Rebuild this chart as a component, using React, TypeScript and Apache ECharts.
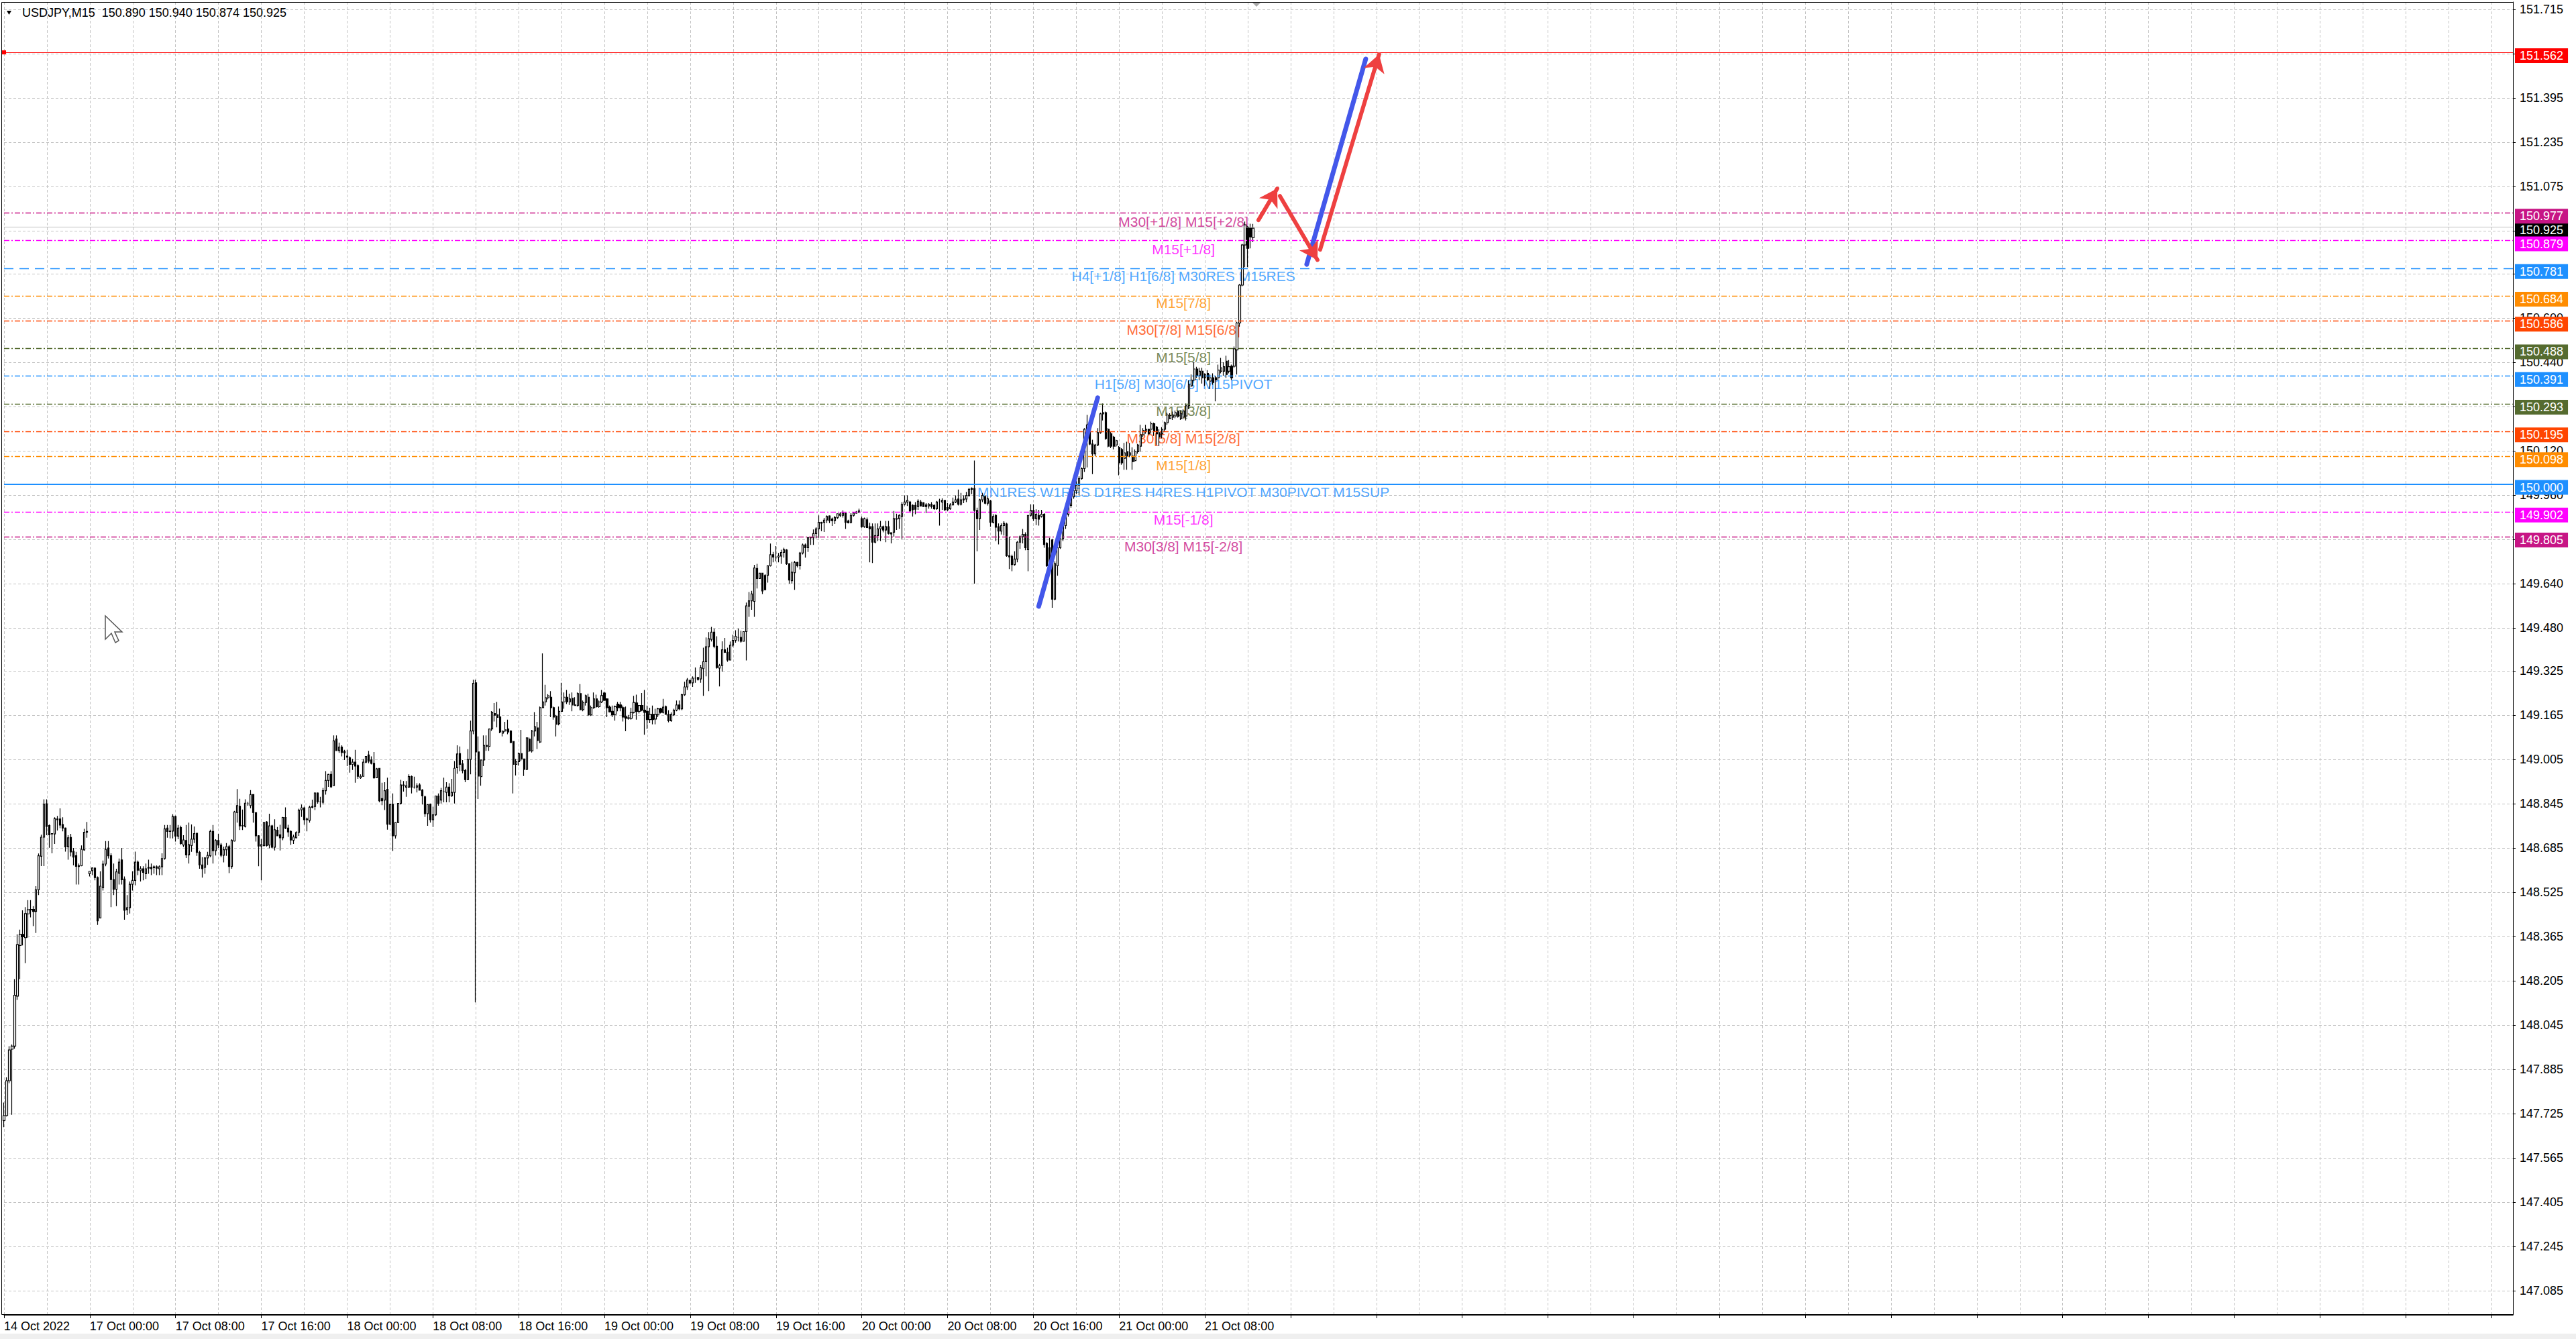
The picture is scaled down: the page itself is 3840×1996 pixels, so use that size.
import React, { useEffect, useRef } from "react";
import * as echarts from "echarts";

// ---------------- data ----------------
const TIME_LABELS = [
  "14 Oct 2022", "17 Oct 00:00", "17 Oct 08:00", "17 Oct 16:00", "18 Oct 00:00",
  "18 Oct 08:00", "18 Oct 16:00", "19 Oct 00:00", "19 Oct 08:00", "19 Oct 16:00",
  "20 Oct 00:00", "20 Oct 08:00", "20 Oct 16:00", "21 Oct 00:00", "21 Oct 08:00",
];
const BARS_PER_LABEL = 32;
const SLOT_COUNT = 937; // chart keeps empty space to the right of the last bar

const OPEN = [
147.700,147.718,147.844,147.958,147.969,148.150,148.333,148.373,148.361,148.447,
148.462,148.463,148.456,148.534,148.655,148.724,148.845,148.766,148.737,148.736,
148.790,148.790,148.770,148.757,148.689,148.723,148.673,148.657,148.621,148.621,
148.678,148.742,148.592,148.603,148.612,148.578,148.432,148.541,148.627,148.685,
148.657,148.571,148.536,148.594,148.642,148.573,148.462,148.469,148.554,148.568,
148.634,148.603,148.610,148.592,148.612,148.615,148.614,148.617,148.610,148.617,
148.647,148.757,148.746,148.746,148.799,148.728,148.759,148.696,148.712,148.660,
148.694,148.717,148.738,148.669,148.624,148.615,148.649,148.657,148.745,148.675,
148.712,148.696,148.659,148.679,148.690,148.618,148.710,148.813,148.836,148.765,
148.763,148.845,148.838,148.878,148.813,148.729,148.692,148.694,148.779,148.696,
148.765,148.688,148.749,148.733,148.722,148.795,148.757,148.745,148.713,148.722,
148.741,148.823,148.830,148.787,148.785,148.832,148.835,148.884,148.852,148.850,
148.892,148.929,148.951,148.910,149.079,149.037,149.050,149.034,149.017,149.011,
148.987,148.995,148.983,148.939,148.944,148.995,149.021,149.003,148.991,148.939,
148.973,148.864,148.858,148.897,148.771,148.843,148.729,148.777,148.846,148.913,
148.905,148.905,148.943,148.905,148.905,148.913,148.894,148.870,148.809,148.843,
148.787,148.805,148.873,148.858,148.889,148.886,148.905,148.873,148.886,148.975,
149.026,148.989,148.965,148.932,149.005,149.108,149.282,149.032,148.943,149.003,
149.056,149.052,149.115,149.171,149.167,149.159,149.100,149.108,149.115,149.108,
149.070,148.987,148.997,149.026,149.007,148.969,149.078,149.036,149.108,149.119,
149.068,149.192,149.213,149.228,149.230,149.192,149.162,149.134,149.179,149.213,
149.230,149.213,149.226,149.202,149.200,149.243,149.185,149.211,149.230,149.166,
149.192,149.224,149.196,149.213,149.245,149.224,149.194,149.179,149.168,149.205,
149.202,149.192,149.160,149.154,149.154,149.175,149.209,149.179,149.200,149.183,
149.179,149.149,149.168,149.151,149.168,149.188,149.175,149.196,149.168,149.145,
149.166,149.183,149.202,149.188,149.239,149.267,149.290,149.282,149.299,149.301,
149.296,149.333,149.358,149.412,149.439,149.465,149.414,149.335,149.344,149.401,
149.392,149.364,149.418,149.435,149.446,149.446,149.432,149.467,149.559,149.578,
149.576,149.695,149.659,149.678,149.670,149.670,149.705,149.745,149.736,149.736,
149.740,149.753,149.762,149.712,149.651,149.680,149.717,149.705,149.751,149.780,
149.770,149.806,149.806,149.821,149.838,149.859,149.862,149.870,149.885,149.874,
149.868,149.879,149.887,149.887,149.895,149.867,149.862,149.887,149.895,149.899,
149.875,149.846,149.871,149.846,149.846,149.790,149.814,149.838,149.846,149.834,
149.846,149.824,149.826,149.873,149.875,149.883,149.927,149.935,149.935,149.923,
149.923,149.919,149.935,149.933,149.925,149.921,149.927,149.923,149.911,149.939,
149.935,149.941,149.915,149.911,149.925,149.935,149.946,149.927,149.943,149.946,
149.959,149.981,149.984,149.905,149.875,149.943,149.955,149.931,149.939,149.862,
149.887,149.846,149.830,149.850,149.856,149.741,149.739,149.709,149.729,149.790,
149.810,149.818,149.763,149.887,149.905,149.875,149.887,149.883,149.891,149.786,
149.770,149.798,149.584,149.705,149.770,149.802,149.850,149.891,149.923,149.954,
149.976,149.996,150.020,150.056,150.198,150.214,150.145,150.109,150.141,150.186,
150.254,150.258,150.198,150.182,150.170,150.141,150.133,150.125,150.093,150.117,
150.105,150.101,150.085,150.117,150.137,150.178,150.190,150.198,150.198,150.218,
150.206,150.186,150.182,150.198,150.222,150.237,150.242,150.246,150.262,150.237,
150.242,150.246,150.283,150.355,150.376,150.416,150.392,150.408,150.384,150.400,
150.372,150.384,150.384,150.384,150.408,150.408,150.444,150.408,150.426,150.426,
150.485,150.582,150.719,150.864,150.929,150.925,150.890,
];

const HIGH = [
147.765,147.856,147.969,147.975,148.211,148.373,148.390,148.460,148.471,148.497,
148.497,148.475,148.547,148.665,148.733,148.861,148.861,148.770,148.738,148.796,
148.801,148.828,148.796,148.759,148.731,148.736,148.685,148.671,148.629,148.694,
148.754,148.779,148.601,148.615,148.615,148.582,148.601,148.640,148.710,148.710,
148.666,148.629,148.610,148.647,148.685,148.582,148.515,148.564,148.601,148.672,
148.640,148.619,148.619,148.629,148.643,148.629,148.622,148.622,148.622,148.666,
148.768,148.768,148.768,148.807,148.802,148.768,148.766,148.731,148.768,148.777,
148.770,148.763,148.738,148.675,148.652,148.652,148.671,148.751,148.768,148.717,
148.736,148.703,148.690,148.703,148.696,148.717,148.819,148.898,148.863,148.824,
148.861,148.852,148.894,148.878,148.813,148.731,148.717,148.779,148.782,148.809,
148.769,148.789,148.761,148.769,148.797,148.832,148.769,148.749,148.733,148.745,
148.827,148.842,148.834,148.795,148.838,148.860,148.886,148.886,148.870,148.902,
148.963,148.953,148.963,149.092,149.092,149.066,149.056,149.040,149.040,149.016,
149.007,149.040,148.987,148.951,149.007,149.017,149.036,149.016,149.032,148.974,
148.974,148.921,148.923,148.939,148.846,148.882,148.777,148.846,148.931,148.927,
148.927,148.951,148.947,148.943,148.919,148.919,148.898,148.874,148.842,148.846,
148.834,148.873,148.882,148.902,148.939,148.923,148.919,148.935,148.999,149.056,
149.052,149.003,148.971,149.042,149.145,149.293,149.293,149.088,149.003,149.092,
149.092,149.115,149.180,149.209,149.213,149.189,149.110,149.141,149.149,149.110,
149.072,149.007,149.030,149.112,149.007,149.084,149.084,149.112,149.176,149.141,
149.196,149.388,149.275,149.241,149.252,149.196,149.166,149.196,149.282,149.247,
149.256,149.243,149.247,149.230,149.247,149.277,149.218,149.239,149.243,149.200,
149.247,149.239,149.218,149.256,149.250,149.226,149.200,149.200,149.200,149.213,
149.213,149.200,149.196,149.166,149.192,149.235,149.239,149.200,149.245,149.256,
149.200,149.192,149.200,149.188,149.192,149.192,149.224,149.200,149.183,149.175,
149.188,149.218,149.218,149.243,149.286,149.299,149.294,149.305,149.337,149.303,
149.347,149.409,149.446,149.465,149.484,149.478,149.450,149.350,149.432,149.444,
149.409,149.431,149.456,149.472,149.478,149.470,149.467,149.572,149.610,149.614,
149.708,149.712,149.678,149.678,149.674,149.705,149.785,149.755,149.776,149.751,
149.763,149.770,149.765,149.714,149.719,149.723,149.719,149.755,149.785,149.785,
149.810,149.810,149.836,149.844,149.887,149.864,149.878,149.887,149.887,149.879,
149.885,149.893,149.899,149.905,149.895,149.871,149.895,149.899,149.903,149.911,
149.883,149.879,149.879,149.860,149.858,149.858,149.858,149.867,149.850,149.867,
149.867,149.826,149.903,149.893,149.891,149.935,149.959,149.959,149.939,149.927,
149.935,149.945,149.943,149.935,149.931,149.931,149.935,149.927,149.939,149.947,
149.949,149.943,149.931,149.931,149.951,149.959,149.980,149.968,149.959,149.972,
149.986,149.988,150.085,149.915,149.947,149.968,149.959,149.955,149.943,149.891,
149.891,149.858,149.858,149.866,149.860,149.810,149.745,149.757,149.794,149.814,
149.838,149.826,149.887,149.927,149.927,149.909,149.907,149.907,149.895,149.790,
149.806,149.802,149.721,149.774,149.834,149.858,149.899,149.931,149.964,149.981,
150.012,150.028,150.060,150.202,150.250,150.218,150.160,150.145,150.202,150.258,
150.291,150.262,150.202,150.190,150.174,150.160,150.137,150.130,150.149,150.153,
150.149,150.133,150.125,150.145,150.214,150.202,150.214,150.200,150.226,150.222,
150.210,150.198,150.206,150.226,150.258,150.256,150.262,150.266,150.266,150.266,
150.270,150.291,150.375,150.396,150.440,150.424,150.420,150.420,150.400,150.412,
150.396,150.400,150.392,150.432,150.456,150.440,150.464,150.448,150.432,150.497,
150.586,150.723,150.868,150.949,150.933,150.941,150.940,
];

const LOW = [
147.676,147.715,147.835,147.721,147.960,148.136,148.211,148.333,148.269,148.361,
148.434,148.403,148.378,148.515,148.620,148.620,148.731,148.686,148.666,148.700,
148.748,148.757,148.745,148.672,148.643,148.655,148.622,148.553,148.553,148.619,
148.675,148.722,148.582,148.587,148.568,148.407,148.432,148.531,148.619,148.647,
148.471,148.515,148.475,148.553,148.553,148.426,148.443,148.448,148.531,148.550,
148.587,148.564,148.568,148.573,148.592,148.587,148.592,148.587,148.587,148.587,
148.643,148.722,148.720,148.720,148.708,148.717,148.697,148.689,148.649,148.629,
148.671,148.703,148.657,148.610,148.578,148.592,148.624,148.652,148.629,148.658,
148.685,148.652,148.633,148.657,148.594,148.610,148.708,148.777,148.750,148.750,
148.759,148.838,148.828,148.777,148.708,148.619,148.568,148.690,148.690,148.684,
148.684,148.676,148.729,148.676,148.713,148.753,148.725,148.696,148.700,148.720,
148.729,148.797,148.769,148.745,148.777,148.828,148.822,148.845,148.832,148.842,
148.878,148.906,148.902,148.910,149.036,149.029,149.016,149.003,148.981,148.957,
148.967,148.921,148.935,148.935,148.943,148.991,148.991,148.987,148.935,148.937,
148.850,148.840,148.822,148.751,148.769,148.674,148.719,148.777,148.842,148.889,
148.870,148.902,148.882,148.900,148.886,148.894,148.842,148.797,148.765,148.777,
148.761,148.801,148.838,148.846,148.850,148.850,148.850,148.870,148.846,148.953,
148.963,148.955,148.923,148.931,148.951,149.096,148.127,148.862,148.910,148.981,
149.036,149.036,149.108,149.142,149.121,149.100,149.088,149.104,149.096,149.064,
148.882,148.947,148.983,149.000,148.945,148.967,149.032,149.030,149.088,149.043,
149.064,149.192,149.200,149.222,149.158,149.149,149.088,149.128,149.177,149.188,
149.205,149.202,149.179,149.200,149.196,149.183,149.179,149.200,149.162,149.162,
149.188,149.192,149.192,149.209,149.216,149.158,149.175,149.158,149.145,149.179,
149.179,149.142,149.107,149.149,149.149,149.171,149.149,149.171,149.179,149.094,
149.115,149.136,149.132,149.132,149.158,149.171,149.171,149.168,149.139,149.141,
149.162,149.179,149.183,149.183,149.235,149.256,149.277,149.267,149.282,149.290,
149.282,149.235,149.305,149.252,149.431,149.407,149.333,149.269,149.322,149.390,
149.358,149.363,149.412,149.427,149.431,149.427,149.431,149.363,149.520,149.546,
149.520,149.623,149.657,149.603,149.618,149.644,149.702,149.717,149.721,149.717,
149.712,149.734,149.708,149.640,149.640,149.618,149.699,149.691,149.746,149.734,
149.755,149.780,149.780,149.804,149.806,149.830,149.827,149.859,149.859,149.849,
149.856,149.874,149.880,149.879,149.838,149.858,149.858,149.883,149.893,149.895,
149.842,149.842,149.841,149.717,149.715,149.786,149.794,149.794,149.826,149.790,
149.818,149.786,149.810,149.834,149.838,149.802,149.923,149.921,149.899,149.883,
149.891,149.907,149.919,149.917,149.895,149.911,149.911,149.907,149.907,149.850,
149.907,149.903,149.903,149.907,149.923,149.931,149.923,149.923,149.931,149.935,
149.954,149.964,149.640,149.757,149.834,149.935,149.927,149.923,149.846,149.858,
149.794,149.782,149.818,149.814,149.737,149.693,149.685,149.705,149.717,149.766,
149.786,149.761,149.685,149.883,149.867,149.852,149.850,149.879,149.770,149.701,
149.690,149.553,149.580,149.669,149.766,149.794,149.838,149.883,149.915,149.947,
149.964,149.959,150.016,150.044,150.060,150.141,150.036,150.101,150.137,150.182,
150.230,150.160,150.133,150.130,150.125,150.135,150.032,150.070,150.052,150.052,
150.097,150.052,150.081,150.110,150.117,150.170,150.182,150.178,150.182,150.174,
150.141,150.137,150.165,150.190,150.214,150.234,150.232,150.238,150.240,150.232,
150.234,150.230,150.271,150.351,150.372,150.384,150.376,150.363,150.355,150.372,
150.343,150.359,150.299,150.376,150.400,150.392,150.384,150.400,150.376,150.420,
150.396,150.569,150.715,150.784,150.784,150.852,150.874,
];

const CLOSE = [
147.718,147.844,147.955,147.969,148.153,148.336,148.373,148.364,148.448,148.462,
148.463,148.456,148.534,148.657,148.724,148.844,148.763,148.733,148.736,148.791,
148.787,148.768,148.757,148.689,148.722,148.671,148.652,148.619,148.618,148.680,
148.742,148.745,148.601,148.613,148.578,148.422,148.547,148.627,148.680,148.657,
148.571,148.536,148.599,148.634,148.570,148.460,148.469,148.554,148.568,148.634,
148.605,148.610,148.597,148.610,148.615,148.610,148.617,148.612,148.617,148.647,
148.754,148.745,148.745,148.799,148.728,148.757,148.701,148.714,148.660,148.697,
148.717,148.737,148.669,148.624,148.610,148.649,148.658,148.745,148.675,148.712,
148.696,148.659,148.679,148.690,148.618,148.712,148.815,148.838,148.765,148.766,
148.847,148.845,148.878,148.813,148.729,148.692,148.697,148.777,148.694,148.765,
148.688,148.751,148.729,148.722,148.795,148.757,148.743,148.714,148.725,148.741,
148.822,148.830,148.787,148.790,148.832,148.835,148.884,148.852,148.852,148.892,
148.929,148.951,148.906,149.072,149.037,149.050,149.030,149.029,149.013,148.987,
148.995,148.981,148.944,148.944,148.995,149.016,148.999,148.991,148.939,148.971,
148.856,148.856,148.892,148.771,148.842,148.729,148.777,148.846,148.913,148.910,
148.910,148.943,148.905,148.905,148.910,148.894,148.873,148.809,148.842,148.787,
148.805,148.873,148.846,148.892,148.889,148.905,148.873,148.886,148.973,149.025,
148.987,148.965,148.932,149.005,149.108,149.280,149.032,148.945,149.003,149.056,
149.052,149.115,149.176,149.165,149.157,149.104,149.107,149.112,149.104,149.066,
148.987,148.997,149.026,149.007,148.969,149.083,149.036,149.108,149.123,149.073,
149.192,149.213,149.228,149.235,149.192,149.158,149.132,149.179,149.213,149.230,
149.213,149.224,149.202,149.200,149.243,149.185,149.211,149.235,149.166,149.192,
149.224,149.196,149.213,149.236,149.219,149.192,149.177,149.166,149.196,149.192,
149.192,149.158,149.154,149.155,149.175,149.211,149.179,149.200,149.183,149.175,
149.149,149.168,149.149,149.168,149.188,149.175,149.194,149.168,149.145,149.168,
149.183,149.202,149.188,149.239,149.267,149.292,149.282,149.299,149.299,149.294,
149.337,149.358,149.412,149.441,149.465,149.414,149.337,149.344,149.401,149.392,
149.364,149.418,149.435,149.450,149.446,149.432,149.467,149.560,149.578,149.603,
149.697,149.659,149.678,149.614,149.618,149.705,149.745,149.736,149.736,149.740,
149.753,149.763,149.712,149.653,149.682,149.717,149.705,149.751,149.780,149.770,
149.806,149.808,149.821,149.838,149.862,149.862,149.870,149.883,149.868,149.868,
149.879,149.893,149.892,149.895,149.862,149.860,149.887,149.895,149.899,149.903,
149.846,149.875,149.843,149.838,149.790,149.814,149.838,149.846,149.834,149.846,
149.822,149.820,149.875,149.876,149.887,149.927,149.935,149.941,149.903,149.907,
149.909,149.938,149.921,149.919,149.919,149.927,149.919,149.911,149.935,149.939,
149.941,149.907,149.907,149.925,149.935,149.943,149.927,149.943,149.946,149.959,
149.981,149.984,149.905,149.875,149.943,149.959,149.931,149.947,149.862,149.883,
149.844,149.830,149.850,149.858,149.741,149.737,149.709,149.729,149.790,149.810,
149.818,149.770,149.887,149.905,149.875,149.891,149.873,149.891,149.782,149.705,
149.700,149.584,149.713,149.770,149.802,149.850,149.891,149.923,149.955,149.976,
149.996,150.020,150.056,150.198,150.214,150.145,150.109,150.141,150.186,150.254,
150.258,150.165,150.137,150.137,150.137,150.157,150.077,150.077,150.113,150.101,
150.113,150.081,150.117,150.141,150.178,150.194,150.198,150.182,150.218,150.190,
150.182,150.170,150.198,150.222,150.250,150.248,150.250,150.258,150.244,150.256,
150.264,150.283,150.359,150.376,150.416,150.392,150.408,150.384,150.396,150.376,
150.384,150.367,150.376,150.412,150.420,150.424,150.396,150.424,150.384,150.489,
150.582,150.719,150.864,150.937,150.852,150.893,150.925,
];

const Y_TICKS = [
  151.715, 151.555, 151.395, 151.235, 151.075, 150.915, 150.760, 150.600, 150.440, 150.280,
  150.120, 149.960, 149.800, 149.640, 149.480, 149.325, 149.165, 149.005, 148.845, 148.685,
  148.525, 148.365, 148.205, 148.045, 147.885, 147.725, 147.565, 147.405, 147.245, 147.085,
];
const Y_MIN = 146.998;
const Y_MAX = 151.742;

const RESIST_LEVEL = 151.562;
const LEVEL_VALUES = [150.977, 150.879, 150.781, 150.684, 150.586, 150.488, 150.391, 150.293, 150.195, 150.098, 150.0, 149.902, 149.805];
const LEVEL_TEXTS = [
  "M30[+1/8] M15[+2/8]",
  "M15[+1/8]",
  "H4[+1/8] H1[6/8] M30RES M15RES",
  "M15[7/8]",
  "M30[7/8] M15[6/8]",
  "M15[5/8]",
  "H1[5/8] M30[6/8] M15PIVOT",
  "M15[3/8]",
  "M30[5/8] M15[2/8]",
  "M15[1/8]",
  "MN1RES W1RES D1RES H4RES H1PIVOT M30PIVOT M15SUP",
  "M15[-1/8]",
  "M30[3/8] M15[-2/8]",
];

// hand-drawn trend lines / arrows: [bar index, price]
const TREND_FROM = [[386, 149.558], [486, 150.794], [468, 150.954], [476, 151.041], [491, 150.847]];
const TREND_TO = [[408, 150.312], [508, 151.536], [475, 151.068], [490, 150.810], [513, 151.553]];

// ---------------- styles ----------------
const DASH_DOT = [8, 3, 2, 3];
const LEVEL_STYLES = [
  { color: "#C71585", type: DASH_DOT, width: 1.4 },
  { color: "#FF00FF", type: DASH_DOT, width: 1.4 },
  { color: "#1E90FF", type: [14, 9], width: 1.4 },
  { color: "#FF8C00", type: DASH_DOT, width: 1.4 },
  { color: "#FF4500", type: DASH_DOT, width: 1.4 },
  { color: "#556B2F", type: DASH_DOT, width: 1.4 },
  { color: "#1E90FF", type: DASH_DOT, width: 1.4 },
  { color: "#556B2F", type: DASH_DOT, width: 1.4 },
  { color: "#FF4500", type: DASH_DOT, width: 1.4 },
  { color: "#FF8C00", type: DASH_DOT, width: 1.4 },
  { color: "#1E90FF", type: "solid", width: 2 },
  { color: "#FF00FF", type: DASH_DOT, width: 1.4 },
  { color: "#C71585", type: DASH_DOT, width: 1.4 },
];
const TREND_STYLES = [
  { color: "#4357EA", width: 7, arrow: false },
  { color: "#4357EA", width: 7, arrow: false },
  { color: "#EE4040", width: 6, arrow: true },
  { color: "#EE4040", width: 6, arrow: true },
  { color: "#EE4040", width: 6, arrow: true },
];
const LABEL_BAR = 440;
const FONT = "Liberation Sans, Arial, sans-serif";
const GRID_COLOR = "#c2c2c2";

function priceBox(value: number, bg: string) {
  return {
    show: true,
    position: "end",
    distance: 3,
    offset: [0, 5],
    formatter: value.toFixed(3),
    color: "#ffffff",
    backgroundColor: bg,
    padding: [3, 7, 2, 7],
    lineHeight: 17,
    fontSize: 18,
    fontFamily: FONT,
  };
}

export default function App() {
  const ref = useRef<HTMLDivElement>(null);

  useEffect(() => {
    if (!ref.current) return;
    const chart = echarts.init(ref.current, undefined, { renderer: "svg" });
    const last = CLOSE.length - 1;
    const bid = CLOSE[last];
    const slots = Array.from({ length: SLOT_COUNT }, (_, i) => String(i));
    const candles = OPEN.map((o, i) => [o, CLOSE[i], LOW[i], HIGH[i]]);

    const levelLines: any[] = [
      {
        yAxis: bid,
        lineStyle: { color: "#C0C0C0", type: "solid", width: 1 },
        label: priceBox(bid, "#000000"),
      },
      {
        yAxis: RESIST_LEVEL,
        symbol: ["emptyRect", "none"],
        symbolSize: 6,
        lineStyle: { color: "#FF0000", type: "solid", width: 1.2 },
        label: priceBox(RESIST_LEVEL, "#FF0000"),
      },
      ...LEVEL_VALUES.map((v, i) => ({
        yAxis: v,
        lineStyle: { color: LEVEL_STYLES[i].color, type: LEVEL_STYLES[i].type, width: LEVEL_STYLES[i].width },
        label: priceBox(v, LEVEL_STYLES[i].color),
      })),
    ];

    const trendLines = TREND_FROM.map((from, i) => [
      {
        coord: from,
        symbol: "none",
        lineStyle: { color: TREND_STYLES[i].color, width: TREND_STYLES[i].width, type: "solid", cap: "round" },
      },
      {
        coord: TREND_TO[i],
        symbol: TREND_STYLES[i].arrow ? "arrow" : "none",
        symbolSize: [24, 26],
      },
    ]);

    chart.setOption({
      animation: false,
      backgroundColor: "#ffffff",
      title: {
        text: `USDJPY,M15  ${OPEN[last].toFixed(3)} ${HIGH[last].toFixed(3)} ${LOW[last].toFixed(3)} ${CLOSE[last].toFixed(3)}`,
        left: 33,
        top: 10,
        padding: 0,
        textStyle: { fontSize: 18, fontWeight: "normal", fontFamily: FONT, color: "#000" },
      },
      grid: { left: 6, right: 94, top: 3, bottom: 36, containLabel: false },
      xAxis: {
        type: "category",
        boundaryGap: false,
        data: slots,
        axisLine: { show: true, onZero: false, lineStyle: { color: "#000", width: 1 } },
        axisTick: { show: true, interval: BARS_PER_LABEL - 1, length: 5, lineStyle: { color: "#000" } },
        axisLabel: {
          interval: BARS_PER_LABEL - 1,
          align: "left",
          margin: 8,
          color: "#000",
          fontSize: 18,
          fontFamily: FONT,
          formatter: (_v: string, idx: number) => TIME_LABELS[idx / BARS_PER_LABEL] ?? "",
        },
        splitLine: { show: true, interval: 15, lineStyle: { color: GRID_COLOR, type: [4, 3], width: 1 } },
      },
      yAxis: {
        type: "value",
        position: "right",
        min: Y_MIN,
        max: Y_MAX,
        axisLine: { show: true, lineStyle: { color: "#000", width: 1 } },
        axisTick: { show: true, length: 4, customValues: Y_TICKS, lineStyle: { color: "#000" } },
        axisLabel: {
          customValues: Y_TICKS,
          margin: 10,
          color: "#000",
          fontSize: 18,
          fontFamily: FONT,
          formatter: (v: number) => v.toFixed(3),
        },
        splitLine: { show: true, lineStyle: { color: GRID_COLOR, type: [4, 3], width: 1 } },
      },
      series: [
        {
          type: "scatter",
          name: "levels",
          z: 1,
          silent: true,
          symbolSize: 1,
          itemStyle: { color: "rgba(0,0,0,0)" },
          label: {
            show: true,
            position: "bottom",
            distance: 1,
            fontSize: 21,
            lineHeight: 21,
            fontFamily: FONT,
          },
          data: LEVEL_VALUES.map((v, i) => ({
            value: [LABEL_BAR, v],
            label: { formatter: LEVEL_TEXTS[i], color: LEVEL_STYLES[i].color },
          })),
          markLine: {
            silent: true,
            symbol: "none",
            animation: false,
            data: levelLines,
          },
        },
        {
          type: "candlestick",
          name: "USDJPY",
          z: 3,
          silent: true,
          barWidth: 2.6,
          data: candles,
          itemStyle: {
            color: "#ffffff",
            color0: "#000000",
            borderColor: "#000000",
            borderColor0: "#000000",
            borderWidth: 1.2,
          },
        },
        {
          type: "scatter",
          name: "trend",
          z: 10,
          silent: true,
          symbolSize: 0,
          data: [],
          markLine: {
            silent: true,
            z: 10,
            animation: false,
            label: { show: false },
            data: trendLines,
          },
        },
      ],
      graphic: [
        { type: "rect", shape: { x: 2.5, y: 3.5, width: 3744, height: 1956 }, style: { fill: "none", stroke: "#000", lineWidth: 1 }, silent: true, z: 100 },
        { type: "rect", shape: { x: 0, y: 1988, width: 3840, height: 8 }, style: { fill: "#efefef" }, silent: true },
        { type: "polygon", shape: { points: [[10, 16], [17, 16], [13.5, 22]] }, style: { fill: "#000" }, silent: true },
        { type: "polygon", shape: { points: [[1866, 3], [1880, 3], [1873, 10]] }, style: { fill: "#a8a8a8" }, silent: true },
        {
          type: "polygon",
          shape: { points: [[157, 918], [157, 953], [166, 944], [172, 958], [177, 955], [171, 942], [182, 942]] },
          style: { fill: "#ffffff", stroke: "#555555", lineWidth: 1.5 },
          silent: true,
          z: 100,
        },
      ],
    });

    return () => chart.dispose();
  }, []);

  return (
    <div
      ref={ref}
      style={{ position: "fixed", left: 0, top: 0, width: 3840, height: 1996, background: "#ffffff" }}
    />
  );
}
